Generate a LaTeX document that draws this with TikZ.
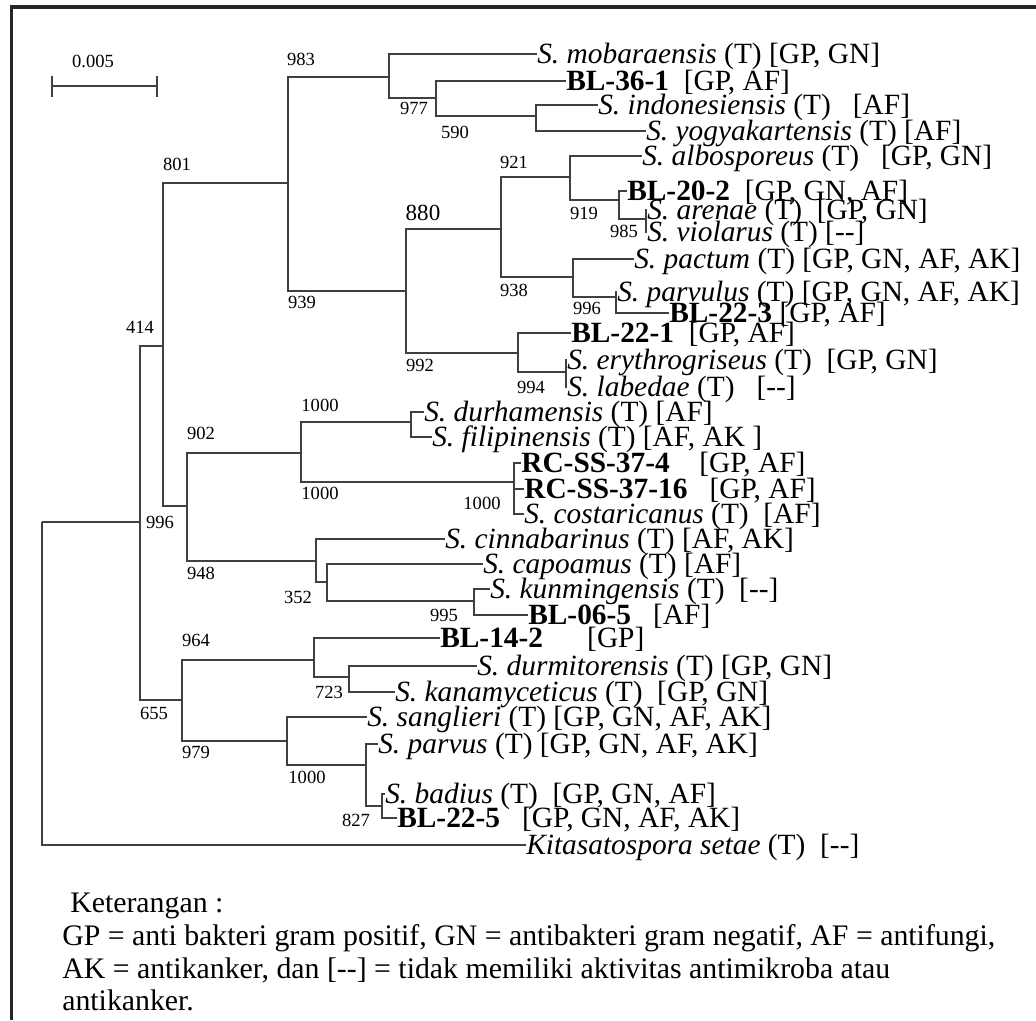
\documentclass[tikz,border=0pt]{standalone}
\usepackage{fontspec}
\setmainfont{Liberation Serif}
\newcommand{\strep}[1]{\textit{S. #1}}
\newcommand{\nohit}{[\mbox{-}\mbox{-}]}

\begin{document}
\begin{tikzpicture}[x=0.025cm, y=-0.025cm,
  br/.style={draw=black!75, line width=0.8pt},
  taxon/.style={anchor=west, inner sep=0pt, font=\fontsize{20.9}{24}\selectfont, text height=14pt, text depth=0.6pt},
  boot/.style={inner sep=0pt, font=\fontsize{13.2}{15}\selectfont},
  note/.style={anchor=base west, inner sep=0pt, font=\fontsize{21.2}{24}\selectfont}]
  \useasboundingbox (0,0) rectangle (1036,1020);
  % frame
  \draw[line width=2.6pt, black!85] (11.5,1020) -- (11.5,7) -- (1036,7);
  % scale bar
  \draw[br] (52,76) -- (52,97) (52,86) -- (157,86) (157,76) -- (157,97);
  \node[boot] (sb) at (93,61) {0.005};

  % internal nodes
  \coordinate (root) at (42,522);
  \coordinate (nA) at (140,522);
  \coordinate (nB) at (163,346);
  \coordinate (nC) at (288,183);
  \coordinate (nD) at (389,77);
  \coordinate (nE) at (436,98);
  \coordinate (nE2) at (536,116);
  \coordinate (nF) at (406,291);
  \coordinate (nG) at (501,229);
  \coordinate (nG1) at (570,177);
  \coordinate (nG2) at (619,200);
  \coordinate (nG2b) at (646,219);
  \coordinate (nG3) at (573,277);
  \coordinate (nG4) at (616,297);
  \coordinate (nJ) at (518,353);
  \coordinate (nJ2) at (566,372);
  \coordinate (nH) at (187,506);
  \coordinate (nH1) at (301,453);
  \coordinate (nH2) at (411,422);
  \coordinate (nH3) at (514,482);
  \coordinate (nH4) at (316,561);
  \coordinate (nH5) at (327,582);
  \coordinate (nH6) at (474,601);
  \coordinate (nK) at (182,700);
  \coordinate (nK1) at (314,660);
  \coordinate (nK2) at (349,677);
  \coordinate (nK3) at (287,741);
  \coordinate (nK4) at (366,765);
  \coordinate (nK5) at (382,806);

  % taxa
  \node[taxon] (mob) at (537,54) {\strep{mobaraensis} (T) [GP, GN]};
  \node[taxon] (bl361) at (566,81) {\textbf{BL-36-1}~~[GP, AF]};
  \node[taxon] (ind) at (598,105) {\strep{indonesiensis} (T)~~ [AF]};
  \node[taxon] (yog) at (646,131) {\strep{yogyakartensis} (T) [AF]};
  \node[taxon] (alb) at (642,156) {\strep{albosporeus} (T)~~ [GP, GN]};
  \node[taxon] (bl202) at (627,191) {\textbf{BL-20-2}~~[GP, GN, AF]};
  \node[taxon] (are) at (647,210) {\strep{arenae} (T)~~[GP, GN]};
  \node[taxon] (vio) at (647,232) {\strep{violarus} (T) \nohit};
  \node[taxon] (pac) at (634,259) {\strep{pactum} (T) [GP, GN, AF, AK]};
  \node[taxon] (pvl) at (617,292) {\strep{parvulus} (T) [GP, GN, AF, AK]};
  \node[taxon] (bl223) at (669,313) {\textbf{BL-22-3}~[GP, AF]};
  \node[taxon] (bl221) at (571,333) {\textbf{BL-22-1}~~[GP, AF]};
  \node[taxon] (ery) at (567,360) {\strep{erythrogriseus} (T)~~[GP, GN]};
  \node[taxon] (lab) at (567,387) {\strep{labedae} (T)~~~\nohit};
  \node[taxon] (dur) at (424,412) {\strep{durhamensis} (T) [AF]};
  \node[taxon] (fil) at (432,437) {\strep{filipinensis} (T) [AF, AK ]};
  \node[taxon] (rc4) at (521,463) {\textbf{RC-SS-37-4}~~~~[GP, AF]};
  \node[taxon] (rc16) at (524,489) {\textbf{RC-SS-37-16}~~~[GP, AF]};
  \node[taxon] (cos) at (524,514) {\strep{costaricanus} (T)~~[AF]};
  \node[taxon] (cin) at (445,539) {\strep{cinnabarinus} (T) [AF, AK]};
  \node[taxon] (cap) at (483,564) {\strep{capoamus} (T) [AF]};
  \node[taxon] (kun) at (490,589) {\strep{kunmingensis} (T)~~\nohit};
  \node[taxon] (bl065) at (528,615) {\textbf{BL-06-5}~~~[AF]};
  \node[taxon] (bl142) at (440,638) {\textbf{BL-14-2}~~~~~~[GP]};
  \node[taxon] (dmt) at (477,666) {\strep{durmitorensis} (T) [GP, GN]};
  \node[taxon] (kan) at (395,692) {\strep{kanamyceticus} (T)~~[GP, GN]};
  \node[taxon] (san) at (367,717) {\strep{sanglieri} (T) [GP, GN, AF, AK]};
  \node[taxon] (pvs) at (378,744) {\strep{parvus} (T) [GP, GN, AF, AK]};
  \node[taxon] (bad) at (385,794) {\strep{badius} (T)~~[GP, GN, AF]};
  \node[taxon] (bl225) at (397,818) {\textbf{BL-22-5}~~~[GP, GN, AF, AK]};
  \node[taxon] (kit) at (526,845) {\textit{Kitasatospora setae} (T)~~\nohit};

  % branches
  \draw[br] (root) -- (nA) (root) |- (kit.west);
  \draw[br] (nA) |- (nB) (nA) |- (nK);
  \draw[br] (nB) |- (nC) (nB) |- (nH);
  \draw[br] (nC) |- (nD) (nC) |- (nF);
  \draw[br] (nD) |- (mob.west) (nD) |- (nE);
  \draw[br] (nE) |- (bl361.west) (nE) |- (nE2);
  \draw[br] (nE2) |- (ind.west) (nE2) |- (yog.west);
  \draw[br] (nF) |- (nG) (nF) |- (nJ);
  \draw[br] (nG) |- (nG1) (nG) |- (nG3);
  \draw[br] (nG1) |- (alb.west) (nG1) |- (nG2);
  \draw[br] (nG2) |- (bl202.west) (nG2) |- (nG2b);
  \draw[br] (nG2b) |- (are.west) (nG2b) |- (vio.west);
  \draw[br] (nG3) |- (pac.west) (nG3) |- (nG4);
  \draw[br] (nG4) |- (pvl.west) (nG4) |- (bl223.west);
  \draw[br] (nJ) |- (bl221.west) (nJ) |- (nJ2);
  \draw[br] (nJ2) |- (ery.west) (nJ2) |- (lab.west);
  \draw[br] (nH) |- (nH1) (nH) |- (nH4);
  \draw[br] (nH1) |- (nH2) (nH1) |- (nH3);
  \draw[br] (nH2) |- (dur.west) (nH2) |- (fil.west);
  \draw[br] (nH3) |- (rc4.west) (nH3) |- (rc16.west) (nH3) |- (cos.west);
  \draw[br] (nH4) |- (cin.west) (nH4) |- (nH5);
  \draw[br] (nH5) |- (cap.west) (nH5) |- (nH6);
  \draw[br] (nH6) |- (kun.west) (nH6) |- (bl065.west);
  \draw[br] (nK) |- (nK1) (nK) |- (nK3);
  \draw[br] (nK1) |- (bl142.west) (nK1) |- (nK2);
  \draw[br] (nK2) |- (dmt.west) (nK2) |- (kan.west);
  \draw[br] (nK3) |- (san.west) (nK3) |- (nK4);
  \draw[br] (nK4) |- (pvs.west) (nK4) |- (nK5);
  \draw[br] (nK5) |- (bad.west) (nK5) |- (bl225.west);

  % bootstrap values
  \node[boot] (b983) at (301,59) {983};
  \node[boot] (b977) at (414,108) {977};
  \node[boot] (b590) at (455,132) {590};
  \node[boot] (b801) at (177,164) {801};
  \node[boot] (b921) at (514,162) {921};
  \node[boot, font=\fontsize{16.4}{18}\selectfont] (b880) at (423,213) {880};
  \node[boot] (b919) at (584,213) {919};
  \node[boot] (b985) at (624,231) {985};
  \node[boot] (b938) at (514,290) {938};
  \node[boot] (b939) at (302,302) {939};
  \node[boot] (b996a) at (587,308) {996};
  \node[boot] (b414) at (140,327) {414};
  \node[boot] (b992) at (420,365) {992};
  \node[boot] (b994) at (531,387) {994};
  \node[boot] (b1000a) at (320,405) {1000};
  \node[boot] (b902) at (201,433) {902};
  \node[boot] (b1000b) at (320,493) {1000};
  \node[boot] (b1000c) at (482,503) {1000};
  \node[boot] (b996b) at (160,522) {996};
  \node[boot] (b948) at (201,573) {948};
  \node[boot] (b352) at (298,597) {352};
  \node[boot] (b995) at (444,615) {995};
  \node[boot] (b964) at (196,640) {964};
  \node[boot] (b723) at (329,692) {723};
  \node[boot] (b655) at (154,713) {655};
  \node[boot] (b979) at (196,752) {979};
  \node[boot] (b1000d) at (307,777) {1000};
  \node[boot] (b827) at (356,820) {827};

  % legend
  \node[note] (leg1) at (70,912) {Keterangan :};
  \node[note] (leg2) at (62,945) {GP = anti bakteri gram positif, GN = antibakteri gram negatif, AF = antifungi,};
  \node[note] (leg3) at (62,978) {AK = antikanker, dan \nohit{} = tidak memiliki aktivitas antimikroba atau};
  \node[note] (leg4) at (62,1010) {antikanker.};
\end{tikzpicture}
\end{document}
